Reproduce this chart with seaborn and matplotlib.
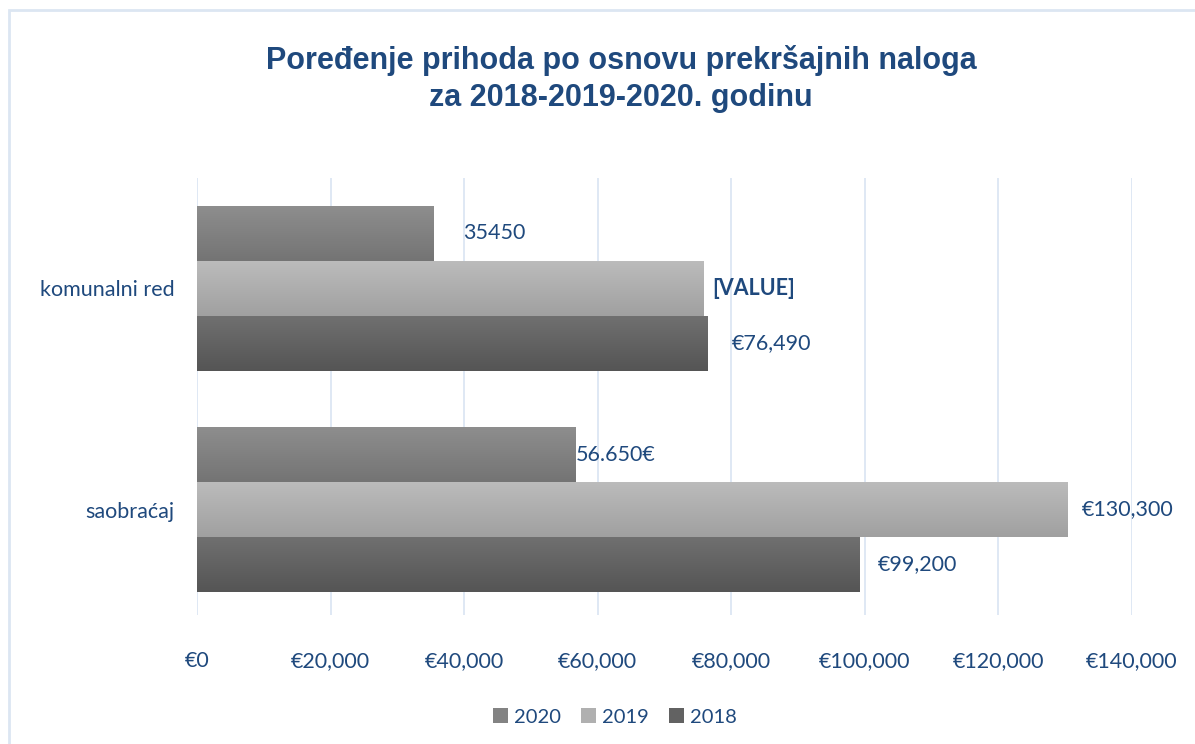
import matplotlib
matplotlib.use("Agg")
import matplotlib.pyplot as plt
import matplotlib.patches as mpatches
from matplotlib.colors import LinearSegmentedColormap
from matplotlib.transforms import offset_copy
import numpy as np
import pandas as pd
import seaborn as sns

categories = ["komunalni red", "saobraćaj"]
years = ["2020", "2019", "2018"]
v2020 = [35450, 56650]
v2019 = [75900, 130300]
v2018 = [76490, 99200]
lab2020 = ["35450", "56.650€"]
lab2019 = ["[VALUE]", "€130,300"]
lab2018 = ["€76,490", "€99,200"]
xticks = [0, 20000, 40000, 60000, 80000, 100000, 120000, 140000]
xticklabels = ["€0", "€20,000", "€40,000", "€60,000", "€80,000", "€100,000", "€120,000", "€140,000"]
title = "Poređenje prihoda po osnovu prekršajnih naloga\nza 2018-2019-2020. godinu"

values = {"2020": v2020, "2019": v2019, "2018": v2018}
labels = {"2020": lab2020, "2019": lab2019, "2018": lab2018}
label_offsets = {"2020": [29, 0], "2019": [8, 15], "2018": [24, 18]}
grad = {"2020": ("#8e8e8e", "#747474"), "2019": ("#bcbcbc", "#a0a0a0"), "2018": ("#707070", "#555555")}
mid = {"2020": "#838383", "2019": "#b0b0b0", "2018": "#626262"}

rows = []
for y in years:
    for c, v in zip(categories, values[y]):
        rows.append({"kategorija": c, "godina": y, "vrijednost": v})
df = pd.DataFrame(rows)

sns.set_theme(style="white")
plt.rcParams["font.family"] = ["Lato", "DejaVu Sans"]

navy = "#1F497D"
grid_c = "#D9E4F2"
fs = 15.5

fig = plt.figure(figsize=(11.95, 7.44), dpi=100)
ax = fig.add_axes([197 / 1195, 1 - 615 / 744, (1132 - 197) / 1195, (615 - 178) / 744])

sns.barplot(data=df, y="kategorija", x="vrijednost", hue="godina", hue_order=years,
            order=categories, palette=mid, orient="h", width=0.745, gap=0,
            ax=ax, legend=False, edgecolor="none")

ax.set_xlim(0, 140000)
ax.set_ylim(1.476, -0.497)

# gradients
for y, cont in zip(years, ax.containers):
    cmap = LinearSegmentedColormap.from_list("g" + y, list(grad[y]))
    for patch in cont.patches:
        x0, y0 = patch.get_x(), patch.get_y()
        w, h = patch.get_width(), patch.get_height()
        arr = np.linspace(0, 1, 64).reshape(-1, 1)
        im = ax.imshow(arr, cmap=cmap, aspect="auto", interpolation="bilinear",
                       extent=(x0, x0 + w, y0 + h, y0), zorder=patch.get_zorder() + 0.1)
        im.set_clip_path(patch)
ax.set_xlim(0, 140000)
ax.set_ylim(1.476, -0.497)

# data labels
for y, cont in zip(years, ax.containers):
    for i, patch in enumerate(cont.patches):
        xe = patch.get_x() + patch.get_width()
        yc = patch.get_y() + patch.get_height() / 2
        tr = offset_copy(ax.transData, fig=fig, x=label_offsets[y][i], y=0, units="dots")
        ax.text(xe, yc, labels[y][i], transform=tr, ha="left", va="center",
                fontsize=fs, color=navy,
                fontweight="bold" if labels[y][i] == "[VALUE]" else "normal", zorder=5)

ax.set_xticks(xticks)
ax.set_xticklabels(xticklabels)
ax.tick_params(axis="x", length=0, pad=26, labelsize=fs, labelcolor=navy)
ax.tick_params(axis="y", length=0, pad=16, labelsize=fs, labelcolor=navy)
ax.set_xlabel("")
ax.set_ylabel("")
ax.grid(axis="x", color=grid_c, linewidth=1.2)
ax.set_axisbelow(True)
for s in ax.spines.values():
    s.set_visible(False)

fig.text(621 / 1195, 1 - 79 / 744, title, ha="center", va="center", fontsize=22,
         fontweight="bold", color=navy, family=["Liberation Sans", "DejaVu Sans"],
         linespacing=1.3)

handles = [mpatches.Patch(facecolor=mid[y], edgecolor="none", label=y) for y in years]
fig.legend(handles=handles, loc="center", bbox_to_anchor=(615 / 1195, 1 - 717 / 744),
           ncol=3, frameon=False, fontsize=14.5, labelcolor=navy, handlelength=0.75,
           handleheight=0.75, handletextpad=0.3, columnspacing=1.0)

border = mpatches.Rectangle((9 / 1195, -0.05), 1.2, 1 - 10 / 744 + 0.05, transform=fig.transFigure,
                            fill=False, edgecolor="#DCE6F2", linewidth=2)
fig.patches.append(border)

fig.savefig("out.png", dpi=100)
